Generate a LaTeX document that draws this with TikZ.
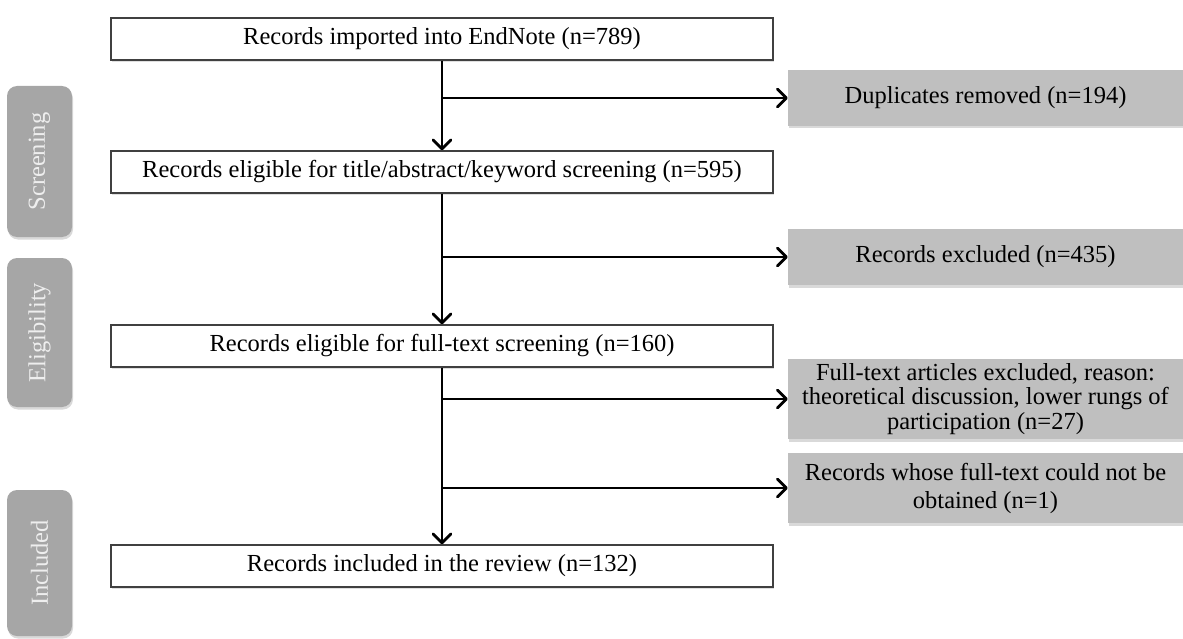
\documentclass[tikz,border=0pt]{standalone}
\usepackage{fontspec}
\setmainfont{Liberation Serif}
\usetikzlibrary{arrows.meta,shadows}
\definecolor{boxgray}{HTML}{BFBFBF}
\definecolor{labgray}{HTML}{A6A6A6}
\definecolor{labtext}{HTML}{EEEEEE}
\definecolor{edgecol}{HTML}{404040}
\begin{document}
\begin{tikzpicture}[x=1pt,y=-1pt,
  font=\fontsize{24.5}{28}\selectfont,
  mainbox/.style={draw=edgecol, line width=1.4pt, fill=white, minimum width=662pt,
    minimum height=42pt, inner sep=0pt,
    drop shadow={shadow xshift=1pt,shadow yshift=-2pt,opacity=0.25}},
  sidebox/.style={fill=boxgray, minimum width=395pt, inner sep=0pt, align=center,
    drop shadow={shadow xshift=1pt,shadow yshift=-2.5pt,opacity=0.3}},
  phase/.style={fill=labgray, rounded corners=10pt, minimum height=65pt, inner sep=0pt,
    rotate=90, text=labtext,
    drop shadow={shadow xshift=1pt,shadow yshift=-2.5pt,opacity=0.3}},
  arr/.style={line width=2.8pt, line join=round,
    -{Straight Barb[length=9pt,width=18pt,line width=2.8pt,round]}}
]
\useasboundingbox (0,0) rectangle (1183,639);

% phase labels
\node[phase, minimum width=151pt] (ph1) at (39.5,161.5) {Screening};
\node[phase, minimum width=149pt] (ph2) at (39.5,332.5) {Eligibility};
\node[phase, minimum width=146pt] (ph3) at (39.5,563) {Included};

% main flow boxes
\node[mainbox] (b1) at (442,39) {Records imported into EndNote (n=789)};
\node[mainbox] (b2) at (442,172) {Records eligible for title/abstract/keyword screening (n=595)};
\node[mainbox] (b3) at (442,346) {Records eligible for full-text screening (n=160)};
\node[mainbox] (b4) at (442,566) {Records included in the review (n=132)};

% side boxes
\node[sidebox, minimum height=56pt] (d1) at (985.5,98) {Duplicates removed (n=194)};
\node[sidebox, minimum height=56pt] (d2) at (985.5,257) {Records excluded (n=435)};
\node[sidebox, minimum height=80pt, font=\fontsize{24.5}{24.5}\selectfont] (d3) at (985.5,399) {Full-text articles excluded, reason:\\theoretical discussion, lower rungs of\\participation (n=27)};
\node[sidebox, minimum height=70pt] (d4) at (985.5,488) {Records whose full-text could not be\\obtained (n=1)};

% connectors
\draw[arr] (b1) -- (b2);
\draw[arr] (b1.south |- d1.west) -- (d1.west);
\draw[arr] (b2) -- (b3);
\draw[arr] (b2.south |- d2.west) -- (d2.west);
\draw[arr] (b3) -- (b4);
\draw[arr] (b3.south |- d3.west) -- (d3.west);
\draw[arr] (b3.south |- d4.west) -- (d4.west);
\end{tikzpicture}
\end{document}
